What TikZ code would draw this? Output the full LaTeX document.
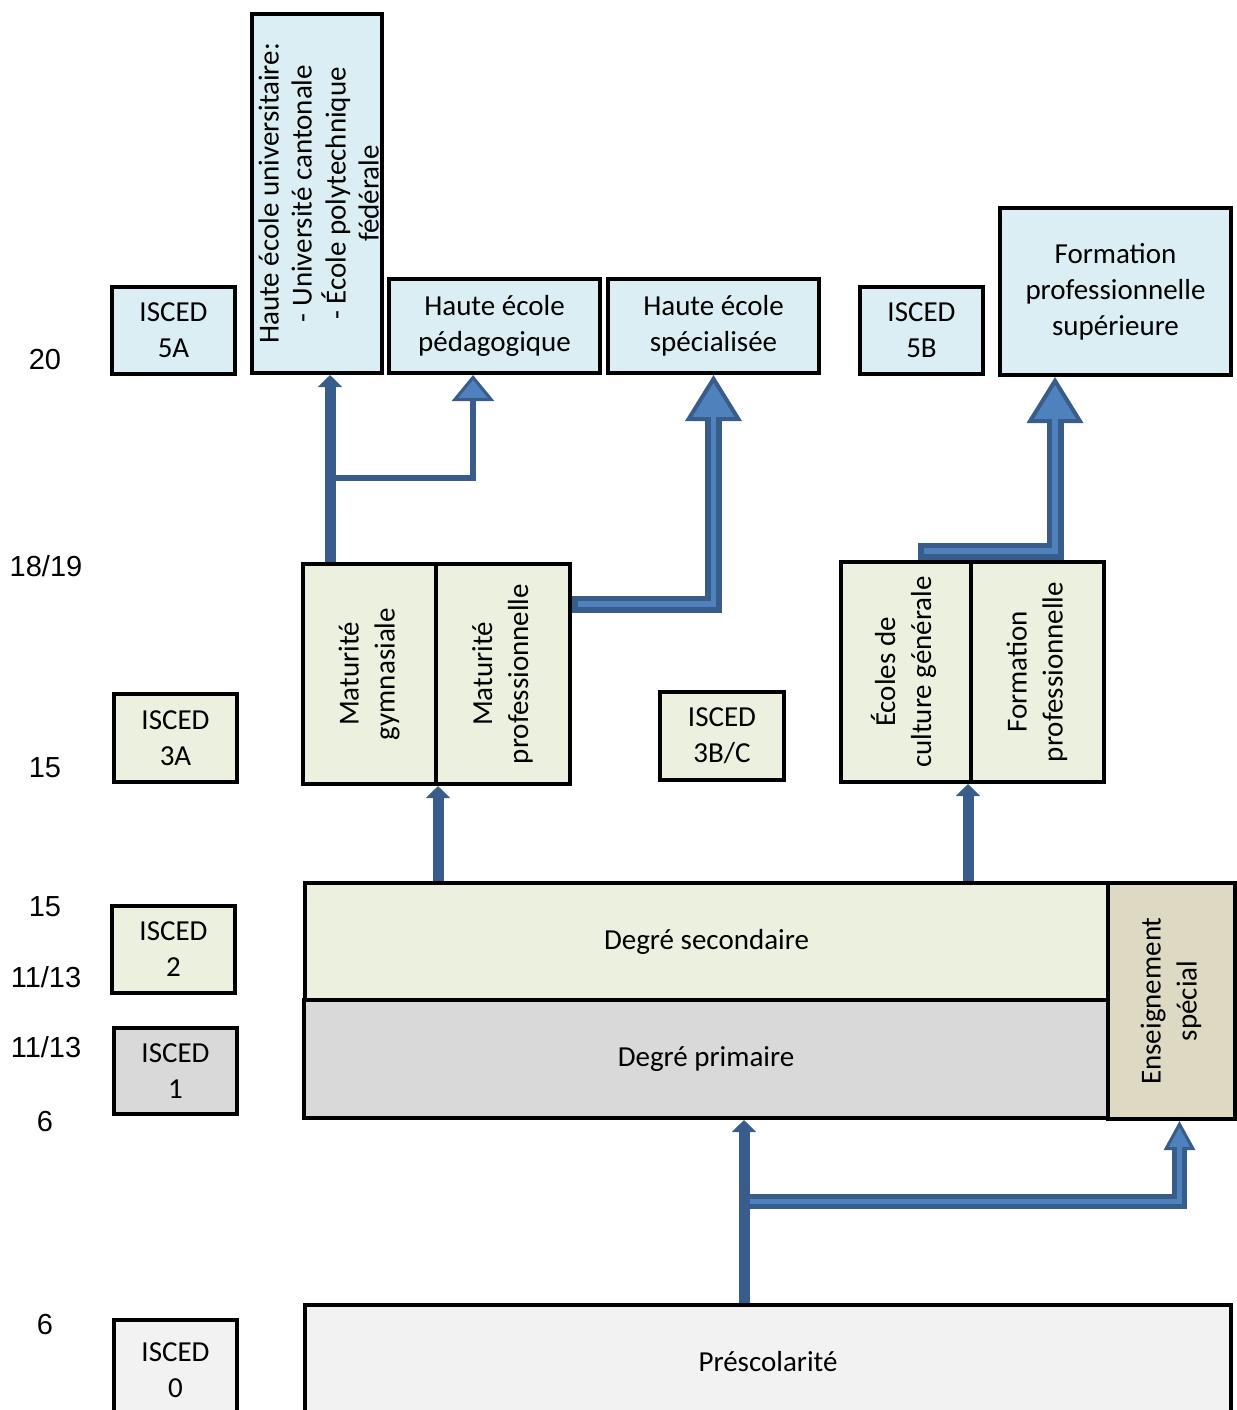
\documentclass[tikz,border=0pt]{standalone}
\usepackage{fontspec}
\setmainfont{Carlito}
\newfontfamily\agefont{Liberation Sans}
\usepackage{graphicx}
\usetikzlibrary{arrows.meta,calc}
\definecolor{dkblue}{HTML}{385D8A}
\definecolor{ltblue}{HTML}{4F81BD}
\definecolor{bluefill}{HTML}{DBEEF4}
\definecolor{greenfill}{HTML}{EBF1DE}
\definecolor{greyfill}{HTML}{D9D9D9}
\definecolor{tanfill}{HTML}{DDD9C3}
\definecolor{palefill}{HTML}{F2F2F2}
\tikzstyle{box}=[draw, line width=2pt, inner sep=0pt, align=center, font=\fontsize{14.5pt}{18pt}\selectfont]
\tikzstyle{age}=[inner sep=0pt, font=\agefont\fontsize{14.5pt}{18pt}\selectfont]
\tikzstyle{conn}=[draw=dkblue, line width=5.5pt, -{Triangle[width=12pt,length=6pt,line width=0.4pt]}]
\tikzstyle{thinconn}=[draw=dkblue, line width=3pt, -{Triangle[width=21pt,length=13pt,line width=1.5pt,fill=ltblue]}]
\tikzstyle{dblconn}=[draw=dkblue, line width=8.5pt, -{Triangle[width=28pt,length=23pt,line width=2pt,fill=ltblue]},
    postaction={draw=ltblue, line width=2.75pt, arrows=-, shorten >=20pt, shorten <=3pt}]
\tikzstyle{dblsmall}=[draw=dkblue, line width=7.5pt, -{Triangle[width=15.5pt,length=14.5pt,line width=1.5pt,fill=ltblue]},
    postaction={draw=ltblue, line width=2.5pt, arrows=-, shorten >=12pt, shorten <=3pt}]
\newcommand{\boxnode}{\node[box]}
\newcommand{\vtext}[1]{\rotatebox{90}{\begin{tabular}{@{}c@{}}#1\end{tabular}}}

\begin{document}
\begin{tikzpicture}[x=0.5pt, y=-0.5pt]
\useasboundingbox (0,0) rectangle (1237,1410);
\clip (0,0) rectangle (1237,1410);

% ages
\node[age] (a20)  at (45,360)  {20};
\node[age] (a19)  at (46,566)  {18/19};
\node[age] (a15)  at (45,768)  {15};
\node[age] (b15)  at (45,907)  {15};
\node[age] (a13)  at (46,977)  {11/13};
\node[age] (b13)  at (46,1047) {11/13};
\node[age] (a6)   at (45,1122) {6};
\node[age] (b6)   at (45,1324) {6};

% tertiary
\boxnode[fill=bluefill, minimum width=61.5pt, minimum height=43.5pt] (i5a) at (173.5,330.5) {ISCED\\5A};
\boxnode[fill=bluefill, minimum width=65pt, minimum height=179.5pt] (univ) at (317,193.5)
    {\makebox[0pt]{\hspace{5pt}\fontsize{14.5pt}{16.5pt}\selectfont\vtext{Haute école universitaire:\\- Université cantonale\\- École polytechnique\\fédérale}}};
\boxnode[fill=bluefill, minimum width=105.5pt, minimum height=47pt] (peda) at (494.5,326) {Haute école\\pédagogique};
\boxnode[fill=bluefill, minimum width=105.5pt, minimum height=47pt] (spec) at (713.5,326) {Haute école\\spécialisée};
\boxnode[fill=bluefill, minimum width=61.5pt, minimum height=43.5pt] (i5b) at (921.5,330.5) {ISCED\\5B};
\boxnode[fill=bluefill, minimum width=115.5pt, minimum height=83.5pt] (fps) at (1115.5,291.5)
    {Formation\\professionnelle\\supérieure};

% upper secondary
\boxnode[fill=greenfill, minimum width=61.5pt, minimum height=44pt] (i3a) at (175.5,738) {ISCED\\3A};
\boxnode[fill=greenfill, minimum width=66.5pt, minimum height=110pt] (gym) at (369.5,674) {\vtext{Maturité\\gymnasiale}};
\boxnode[fill=greenfill, minimum width=67pt, minimum height=110pt] (matpro) at (503,674) {\vtext{Maturité\\professionnelle}};
\boxnode[fill=greenfill, minimum width=62pt, minimum height=44pt] (i3bc) at (722,736) {ISCED\\3B/C};
\boxnode[fill=greenfill, minimum width=65pt, minimum height=110pt] (ecg) at (906,672) {\vtext{Écoles de\\culture générale}};
\boxnode[fill=greenfill, minimum width=66.5pt, minimum height=110pt] (fp) at (1037.5,672) {\vtext{Formation\\professionnelle}};

% compulsory
\boxnode[fill=greenfill, minimum width=61.5pt, minimum height=43.5pt] (i2) at (173.5,949.5) {ISCED\\2};
\boxnode[fill=greenfill, minimum width=401.5pt, minimum height=58.5pt] (sec) at (706.5,941.5) {Degré secondaire};
\boxnode[fill=greyfill, minimum width=61.5pt, minimum height=43pt] (i1) at (175.5,1071) {ISCED\\1};
\boxnode[fill=greyfill, minimum width=402pt, minimum height=59pt] (prim) at (706,1059) {Degré primaire};
\boxnode[fill=tanfill, minimum width=63.5pt, minimum height=118pt] (spe) at (1171.5,1001) {\vtext{Enseignement\\spécial}};
\boxnode[fill=palefill, minimum width=61.5pt, minimum height=50pt] (i0) at (175.5,1370) {ISCED\\0};
\boxnode[fill=palefill, minimum width=463pt, minimum height=57pt] (presc) at (768,1362) {Préscolarité};

% connectors
\coordinate (g1) at ($(gym.north)+(-39.5,0)$);
\coordinate (e1) at ($(ecg.south east)+(-5,0)$);
\coordinate (p1) at ($(presc.north)+(-24,0)$);
\draw[conn] (g1) -- (g1 |- univ.south);
\draw[thinconn] ($(g1)+(0,-84)$) -| ($(peda.south)+(-21.5,0)$);
\draw[dblconn] ($(matpro.north east)+(0,42)$) -| (spec.south);
\draw[dblconn] ($(ecg.north)+(12,-9)$) -| ($(fps.south)+(-60.5,0)$);
\draw[conn] (gym.south east |- sec.north) -- (gym.south east);
\draw[conn] (e1 |- sec.north) -- (e1);
\draw[conn] (p1) -- (p1 |- prim.south);
\draw[dblsmall] ($(p1)+(0,-102)$) -| ($(spe.south)+(8,0)$);
\end{tikzpicture}
\end{document}
